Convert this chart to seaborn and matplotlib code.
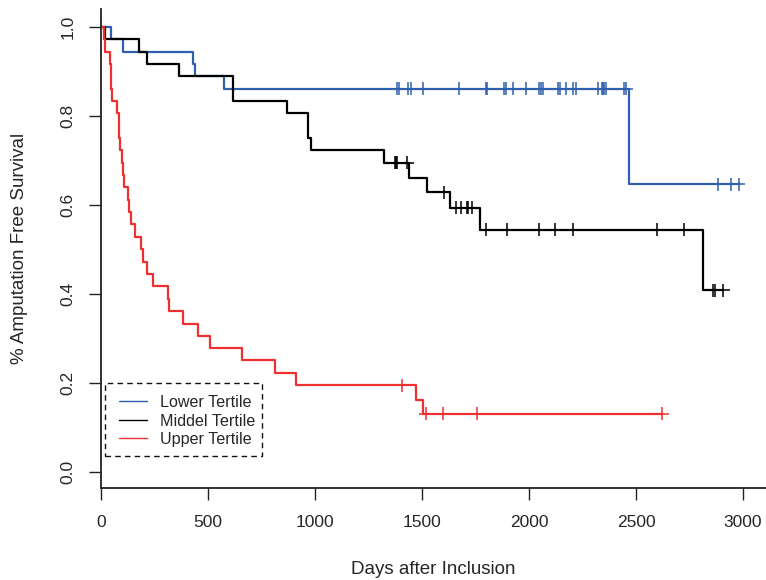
import numpy as np
import pandas as pd
import matplotlib
matplotlib.use("Agg")
import matplotlib.pyplot as plt
from matplotlib.lines import Line2D
from matplotlib.patches import Rectangle
import seaborn as sns

# ---------------- data ----------------
groups = ["Lower Tertile", "Middel Tertile", "Upper Tertile"]
colors = ["#2f5fae", "#000000", "#ee3030"]

# Lower tertile: step times (days) and survival after each step
lower_times = [48, 103, 428, 437, 577, 2469]
lower_surv = [0.972, 0.944, 0.917, 0.889, 0.861, 0.646]
lower_cens = [1385, 1392, 1436, 1447, 1506, 1673, 1799, 1805, 1885, 1892, 1927,
              1985, 2047, 2056, 2065, 2137, 2145, 2171, 2207, 2221, 2324, 2340,
              2346, 2352, 2360, 2443, 2455, 2885, 2942, 2980]

# Middel tertile
middle_times = [19, 176, 215, 363, 615, 871, 969, 980, 1322, 1441, 1522, 1632,
                1771, 2812]
middle_surv = [0.972, 0.944, 0.917, 0.889, 0.833, 0.806, 0.750, 0.722, 0.694,
               0.661, 0.628, 0.593, 0.544, 0.408]
middle_cens = [1372, 1378, 1384, 1431, 1604, 1659, 1682, 1710, 1714, 1735, 1799,
               1897, 2045, 2123, 2206, 2597, 2724, 2858, 2869, 2908]

# Upper tertile
upper_times = [14, 19, 42, 45, 48, 50, 73, 82, 85, 88, 99, 102, 106, 125, 132,
               139, 160, 185, 195, 215, 243, 315, 319, 385, 452, 509, 657, 815,
               910, 1472, 1506]
upper_surv = [0.972, 0.944, 0.917, 0.889, 0.861, 0.833, 0.806, 0.778, 0.750,
              0.722, 0.694, 0.667, 0.639, 0.611, 0.583, 0.556, 0.528, 0.500,
              0.472, 0.444, 0.417, 0.389, 0.361, 0.333, 0.306, 0.278, 0.250,
              0.222, 0.194, 0.162, 0.130]
upper_cens = [1407, 1519, 1597, 1755, 2623]

x_ticks = [0, 500, 1000, 1500, 2000, 2500, 3000]
y_ticks = [0.0, 0.2, 0.4, 0.6, 0.8, 1.0]
x_label = "Days after Inclusion"
y_label = "% Amputation Free Survival"

# ---------------- build tables ----------------
series = {
    "Lower Tertile": (lower_times, lower_surv, lower_cens),
    "Middel Tertile": (middle_times, middle_surv, middle_cens),
    "Upper Tertile": (upper_times, upper_surv, upper_cens),
}

curve_rows = []
cens_rows = []
for g in groups:
    t, s, c = series[g]
    t = np.asarray(t, float)
    s = np.asarray(s, float)
    end = max(t.max(), max(c))
    tt = np.concatenate([[0.0], t, [end]])
    ss = np.concatenate([[1.0], s, [s[-1]]])
    for a, b in zip(tt, ss):
        curve_rows.append({"time": a, "surv": b, "group": g})
    for ct in c:
        idx = np.searchsorted(tt, ct, side="right") - 1
        cens_rows.append({"time": ct, "surv": ss[idx], "group": g})

curves = pd.DataFrame(curve_rows)
cens = pd.DataFrame(cens_rows)
palette = dict(zip(groups, colors))

# ---------------- figure ----------------
sns.set_style("white")
plt.rcParams["font.family"] = ["Liberation Sans", "DejaVu Sans"]

W, H = 766, 580
fig = plt.figure(figsize=(W / 100, H / 100), dpi=100)
ax_l, ax_r, ax_t, ax_b = 101, 766, 9, 488
ax = fig.add_axes([ax_l / W, 1 - ax_b / H, (ax_r - ax_l) / W, (ax_b - ax_t) / H])

sns.lineplot(data=curves, x="time", y="surv", hue="group", palette=palette,
             hue_order=groups, estimator=None, sort=False,
             drawstyle="steps-post", linewidth=1.6, legend=False, ax=ax)
sns.scatterplot(data=cens, x="time", y="surv", hue="group", palette=palette,
                hue_order=groups, marker="+", s=90, linewidth=1.1,
                legend=False, ax=ax, zorder=3)

xpp = 3000 / 642.0
ax.set_xlim(0, (ax_r - ax_l) * xpp)
ax.set_ylim((471.7 - ax_b) / 445.0, (471.7 - ax_t) / 445.0)

ax.set_xticks(x_ticks)
ax.set_xticklabels([str(v) for v in x_ticks])
ax.set_yticks(y_ticks)
ax.set_yticklabels([f"{v:.1f}" for v in y_ticks], rotation=90, va="center")
ax.tick_params(axis="both", direction="out", length=8.5, width=1.0,
               color="#222222", labelsize=12.5, pad=10, bottom=True, left=True)
ax.tick_params(axis="x", pad=11)

for side in ["top", "right"]:
    ax.spines[side].set_visible(False)
for side in ["left", "bottom"]:
    ax.spines[side].set_color("#222222")
    ax.spines[side].set_linewidth(1.3)

ax.set_xlabel("")
ax.set_ylabel("")
fig.text(433.5 / W, 1 - 570 / H, x_label, ha="center", va="center", fontsize=13.5)
fig.text(20 / W, 1 - 248 / H, y_label, ha="center", va="center", rotation=90,
         fontsize=13.5)

# legend (R style, dashed box)
axw, axh = ax_r - ax_l, ax_b - ax_t
rect = Rectangle(((105 - ax_l) / axw, (ax_b - 456) / axh), 156.7 / axw, 73.3 / axh,
                 transform=ax.transAxes, fill=False, linestyle=(0, (4, 3)),
                 linewidth=1.0, edgecolor="#111111", zorder=4)
ax.add_patch(rect)
handles = [Line2D([0], [0], color=c, lw=1.0) for c in colors]
leg = ax.legend(handles, groups, loc="upper left",
                bbox_to_anchor=((119 - ax_l) / axw, (ax_b - 395) / axh),
                frameon=False, fontsize=11.6, handlelength=1.75, handletextpad=0.8,
                labelspacing=0.22, borderpad=0, borderaxespad=0)

fig.savefig("out.png", dpi=100, facecolor="white")
